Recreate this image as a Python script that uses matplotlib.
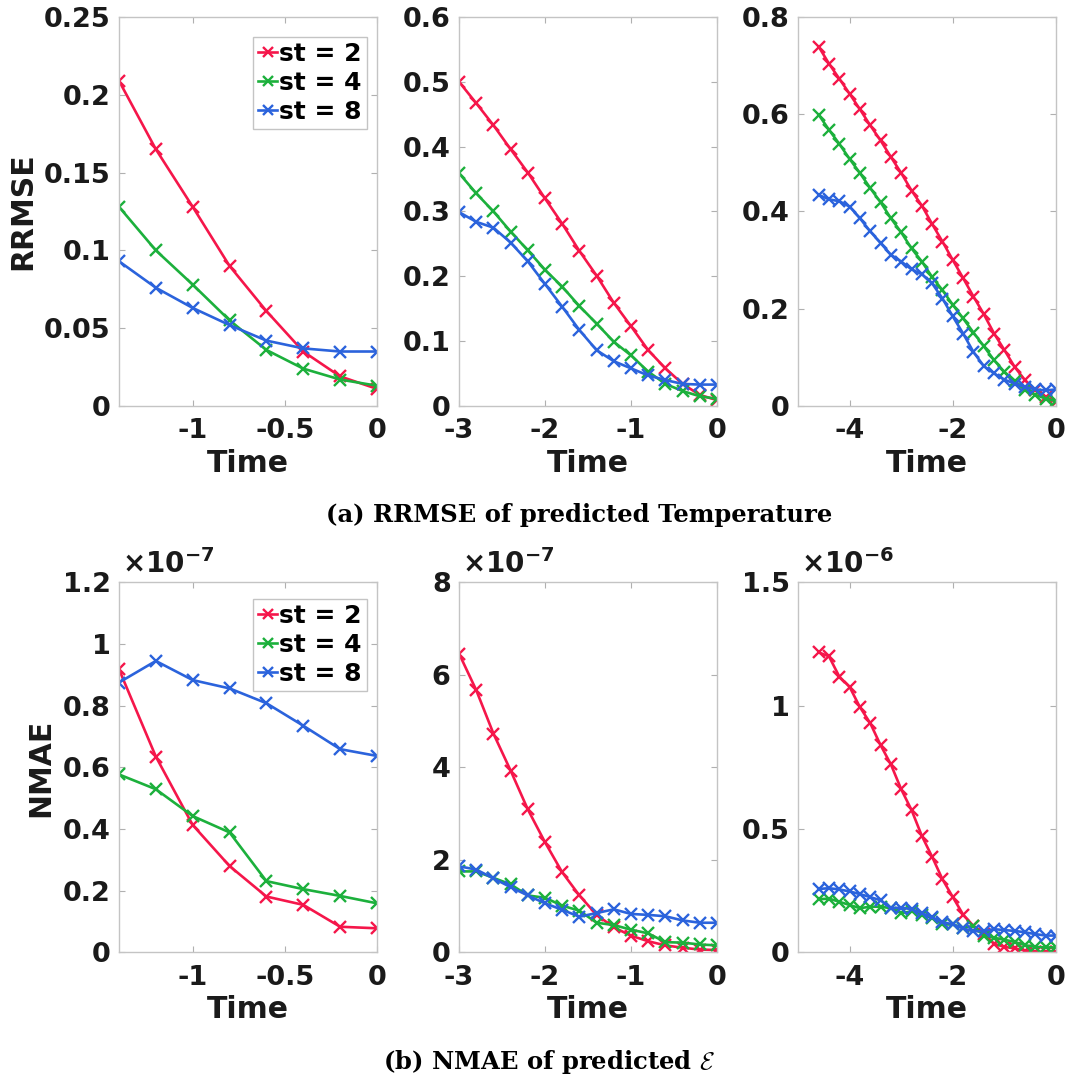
import matplotlib
matplotlib.use("Agg")
import matplotlib.pyplot as plt
from matplotlib.ticker import FuncFormatter

# time axes
t_short = [-1.4, -1.2, -1.0, -0.8, -0.6, -0.4, -0.2, 0.0]
t_mid = [-3.0, -2.8, -2.6, -2.4, -2.2, -2.0, -1.8, -1.6, -1.4, -1.2, -1.0,
         -0.8, -0.6, -0.4, -0.2, 0.0]
t_long = [-4.6, -4.4, -4.2, -4.0, -3.8, -3.6, -3.4, -3.2, -3.0, -2.8, -2.6,
          -2.4, -2.2, -2.0, -1.8, -1.6, -1.4, -1.2, -1.0, -0.8, -0.6, -0.4,
          -0.2, 0.0]

labels = ["st = 2", "st = 4", "st = 8"]
colors = ["#f5164a", "#1cb03c", "#2b63dc"]

# (a) RRMSE of temperature
rr_short_2 = [0.209, 0.165, 0.128, 0.090, 0.061, 0.035, 0.019, 0.011]
rr_short_4 = [0.128, 0.100, 0.078, 0.055, 0.036, 0.024, 0.017, 0.013]
rr_short_8 = [0.093, 0.076, 0.063, 0.052, 0.042, 0.037, 0.035, 0.035]

rr_mid_2 = [0.500, 0.467, 0.433, 0.396, 0.360, 0.320, 0.281, 0.239, 0.201,
            0.159, 0.123, 0.086, 0.058, 0.034, 0.017, 0.009]
rr_mid_4 = [0.359, 0.328, 0.300, 0.269, 0.240, 0.210, 0.184, 0.154, 0.127,
            0.099, 0.078, 0.053, 0.034, 0.023, 0.015, 0.011]
rr_mid_8 = [0.299, 0.284, 0.275, 0.252, 0.223, 0.188, 0.153, 0.117, 0.086,
            0.069, 0.058, 0.047, 0.040, 0.034, 0.033, 0.033]

rr_long_2 = [0.739, 0.704, 0.673, 0.642, 0.610, 0.577, 0.546, 0.512, 0.479,
             0.443, 0.412, 0.374, 0.338, 0.300, 0.263, 0.225, 0.189, 0.149,
             0.115, 0.080, 0.053, 0.032, 0.019, 0.008]
rr_long_4 = [0.599, 0.568, 0.539, 0.508, 0.479, 0.448, 0.419, 0.386, 0.357,
             0.324, 0.297, 0.265, 0.238, 0.208, 0.180, 0.151, 0.123, 0.094,
             0.070, 0.052, 0.032, 0.023, 0.015, 0.010]
rr_long_8 = [0.434, 0.425, 0.421, 0.410, 0.386, 0.359, 0.335, 0.311, 0.297,
             0.281, 0.271, 0.252, 0.221, 0.184, 0.149, 0.111, 0.082, 0.067,
             0.054, 0.046, 0.039, 0.034, 0.032, 0.034]

# (b) NMAE of E (in units of the axis exponent)
nm_short_2 = [0.918, 0.635, 0.413, 0.280, 0.181, 0.154, 0.083, 0.078]
nm_short_4 = [0.577, 0.529, 0.442, 0.389, 0.231, 0.205, 0.183, 0.159]
nm_short_8 = [0.875, 0.945, 0.883, 0.856, 0.808, 0.735, 0.659, 0.637]

nm_mid_2 = [6.46, 5.67, 4.73, 3.93, 3.09, 2.38, 1.73, 1.23, 0.81, 0.54, 0.36,
            0.24, 0.15, 0.10, 0.06, 0.05]
nm_mid_4 = [1.75, 1.75, 1.61, 1.47, 1.23, 1.18, 1.01, 0.90, 0.64, 0.59, 0.49,
            0.41, 0.22, 0.21, 0.17, 0.15]
nm_mid_8 = [1.86, 1.79, 1.60, 1.41, 1.23, 1.06, 0.92, 0.77, 0.85, 0.93, 0.83,
            0.81, 0.78, 0.69, 0.64, 0.64]

nm_long_2 = [1.216, 1.200, 1.118, 1.076, 0.994, 0.929, 0.840, 0.762, 0.661,
             0.577, 0.472, 0.387, 0.296, 0.224, 0.153, 0.107, 0.075, 0.035,
             0.022, 0.016, 0.007, 0.003, 0.002, 0.001]
nm_long_4 = [0.215, 0.218, 0.205, 0.192, 0.179, 0.185, 0.185, 0.179, 0.159,
             0.166, 0.153, 0.140, 0.113, 0.113, 0.100, 0.107, 0.068, 0.059,
             0.051, 0.042, 0.029, 0.022, 0.020, 0.020]
nm_long_8 = [0.257, 0.260, 0.255, 0.247, 0.236, 0.224, 0.211, 0.179, 0.181,
             0.175, 0.159, 0.142, 0.123, 0.113, 0.097, 0.085, 0.087, 0.094,
             0.090, 0.087, 0.081, 0.074, 0.068, 0.068]

plt.rcParams['axes.unicode_minus'] = False
plt.rcParams['font.family'] = 'DejaVu Sans'
plt.rcParams['font.weight'] = 'bold'

fig = plt.figure(figsize=(10.67, 10.8), dpi=100)

lefts = [0.1115, 0.4302, 0.7479]
width = 0.2418
top_row = (0.6241, 0.3602)
bot_row = (0.1182, 0.3426)

fmt = FuncFormatter(lambda v, p: "%g" % round(v, 6))
ink = '#1a1a1a'


def style(ax, xlim, xticks, ylim, yticks):
    ax.set_xlim(xlim)
    ax.set_ylim(ylim)
    ax.set_xticks(xticks)
    ax.set_yticks(yticks)
    ax.xaxis.set_major_formatter(fmt)
    ax.yaxis.set_major_formatter(fmt)
    for s in ax.spines.values():
        s.set_color('#c4c4c4')
        s.set_linewidth(1.0)
    ax.tick_params(direction='in', length=4, width=0.8, color='#b0b0b0',
                   top=True, right=True, labelsize=19.5, labelcolor=ink)
    ax.tick_params(axis='x', pad=9)
    ax.tick_params(axis='y', pad=6)
    ax.set_xlabel('Time', fontsize=21.5, fontweight='bold', color=ink,
                  labelpad=3)


def draw(ax, t, series):
    for vals, c, lab in zip(series, colors, labels):
        ax.plot(t, vals, color=c, lw=1.9, marker='x', ms=8.5, mew=1.7,
                label=lab)


panels = [
    (0, top_row, t_short, [rr_short_2, rr_short_4, rr_short_8],
     (-1.4, 0), [-1, -0.5, 0], (0, 0.25), [0, 0.05, 0.1, 0.15, 0.2, 0.25], None),
    (1, top_row, t_mid, [rr_mid_2, rr_mid_4, rr_mid_8],
     (-3, 0), [-3, -2, -1, 0], (0, 0.6), [0, 0.1, 0.2, 0.3, 0.4, 0.5, 0.6], None),
    (2, top_row, t_long, [rr_long_2, rr_long_4, rr_long_8],
     (-5, 0), [-4, -2, 0], (0, 0.8), [0, 0.2, 0.4, 0.6, 0.8], None),
    (0, bot_row, t_short, [nm_short_2, nm_short_4, nm_short_8],
     (-1.4, 0), [-1, -0.5, 0], (0, 1.2), [0, 0.2, 0.4, 0.6, 0.8, 1, 1.2], -7),
    (1, bot_row, t_mid, [nm_mid_2, nm_mid_4, nm_mid_8],
     (-3, 0), [-3, -2, -1, 0], (0, 8), [0, 2, 4, 6, 8], -7),
    (2, bot_row, t_long, [nm_long_2, nm_long_4, nm_long_8],
     (-5, 0), [-4, -2, 0], (0, 1.5), [0, 0.5, 1, 1.5], -6),
]

axes = []
for col, row, t, series, xl, xt, yl, yt, expo in panels:
    ax = fig.add_axes([lefts[col], row[0], width, row[1]])
    draw(ax, t, series)
    style(ax, xl, xt, yl, yt)
    if expo is not None:
        ax.text(0.01, 1.008, r'$\times$' + '10' + r'$^{\mathbf{%d}}$' % expo,
                transform=ax.transAxes, fontsize=20, fontweight='bold',
                color=ink, ha='left', va='bottom')
    axes.append(ax)

axes[0].set_ylabel('RRMSE', fontsize=21.5, fontweight='bold', color=ink,
                   labelpad=5)
axes[3].set_ylabel('NMAE', fontsize=21.5, fontweight='bold', color=ink,
                   labelpad=5)

for ax, anchor in [(axes[0], (0.961, 0.949)), (axes[3], (0.961, 0.955))]:
    leg = ax.legend(loc='upper right', bbox_to_anchor=anchor, fontsize=18,
                    handlelength=0.75, handletextpad=0.1, labelspacing=0.2,
                    borderpad=0.2, borderaxespad=0, fancybox=False,
                    framealpha=1, edgecolor='#c4c4c4', markerscale=0.8)
    leg.get_frame().set_linewidth(1.0)

fig.text(0.543, 0.523, '(a) RRMSE of predicted Temperature', ha='center',
         va='center', fontsize=17.5, fontweight='bold', family='DejaVu Serif')
fig.text(0.515, 0.017, r'(b) NMAE of predicted $\mathcal{E}$', ha='center',
         va='center', fontsize=17.5, fontweight='bold', family='DejaVu Serif',
         math_fontfamily='cm')

fig.savefig('out.png', dpi=100)
